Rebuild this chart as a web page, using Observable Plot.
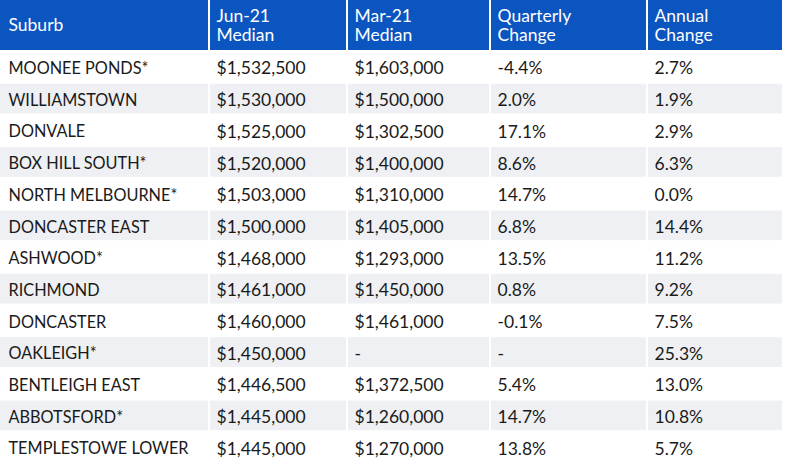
<!DOCTYPE html>
<html>
<head>
<meta charset="utf-8">
<script src="https://cdn.jsdelivr.net/npm/d3@7"></script>
<script src="https://cdn.jsdelivr.net/npm/@observablehq/plot@0.6"></script>
<style>
  html, body { margin: 0; padding: 0; background: #fff; }
  #chart svg { display: block; }
</style>
</head>
<body>
<div id="chart"></div>
<script>
const headers = ["Suburb", "Jun-21\nMedian", "Mar-21\nMedian", "Quarterly\nChange", "Annual\nChange"];
const suburbs = ["MOONEE PONDS*", "WILLIAMSTOWN", "DONVALE", "BOX HILL SOUTH*", "NORTH MELBOURNE*", "DONCASTER EAST", "ASHWOOD*", "RICHMOND", "DONCASTER", "OAKLEIGH*", "BENTLEIGH EAST", "ABBOTSFORD*", "TEMPLESTOWE LOWER"];
const jun21 = [1532500, 1530000, 1525000, 1520000, 1503000, 1500000, 1468000, 1461000, 1460000, 1450000, 1446500, 1445000, 1445000];
const mar21 = [1603000, 1500000, 1302500, 1400000, 1310000, 1405000, 1293000, 1450000, 1461000, null, 1372500, 1260000, 1270000];
const quarterly = [-4.4, 2.0, 17.1, 8.6, 14.7, 6.8, 13.5, 0.8, -0.1, null, 5.4, 14.7, 13.8];
const annual = [2.7, 1.9, 2.9, 6.3, 0.0, 14.4, 11.2, 9.2, 7.5, 25.3, 13.0, 10.8, 5.7];

const W = 785, H = 463;
const colEdges = [0, 209, 347, 490, 647, 783];
const headerH = 51;
const rowH = (H - headerH) / suburbs.length;
const gap = 1;

const loc = d3.formatLocale({decimal: ".", thousands: ",", grouping: [3], currency: ["$", ""], minus: "-"});
const money = v => v == null ? "-" : loc.format("$,")(v);
const pct = v => v == null ? "-" : loc.format(".1f")(v) + "%";

const cells = [];
const texts = [];
suburbs.forEach((s, r) => {
  const vals = [s, money(jun21[r]), money(mar21[r]), pct(quarterly[r]), pct(annual[r])];
  vals.forEach((t, c) => {
    cells.push({
      x1: colEdges[c] + (c > 0 ? gap : 0), x2: colEdges[c + 1] - gap,
      y1: headerH + r * rowH + gap, y2: headerH + (r + 1) * rowH - gap,
      fill: r % 2 === 1 ? "#eef0f3" : "#ffffff"
    });
    texts.push({x: colEdges[c] + (c === 0 ? 8 : 7), y: headerH + (r + 0.5) * rowH + 1.5, text: t, size: c === 0 ? 16.3 : 17.5});
  });
});
const heads = headers.map((h, c) => ({
  x1: colEdges[c] + (c > 0 ? gap : 0), x2: colEdges[c + 1] - gap, y1: 0, y2: headerH - gap,
  tx: colEdges[c] + (c === 0 ? 8 : 7), ty: headerH / 2 - 1, text: h
}));

const chart = Plot.plot({
  width: W, height: H,
  margin: 0,
  x: {domain: [0, W], range: [0, W], axis: null},
  y: {domain: [0, H], range: [0, H], axis: null},
  style: {fontFamily: "Lato, 'Open Sans', sans-serif", background: "#fff"},
  marks: [
    Plot.rect(cells, {x1: "x1", x2: "x2", y1: "y1", y2: "y2", fill: d => d.fill}),
    Plot.rect(heads, {x1: "x1", x2: "x2", y1: "y1", y2: "y2", fill: "#0b55c0"}),
    Plot.text(heads, {x: "tx", y: "ty", text: "text", textAnchor: "start", lineAnchor: "middle", fill: "#fff", fontSize: 17.5, lineHeight: 1.1}),
    Plot.text(texts.filter(d => d.size < 17), {x: "x", y: "y", text: "text", textAnchor: "start", lineAnchor: "middle", fill: "#1a1a1a", fontSize: 16.3}),
    Plot.text(texts.filter(d => d.size >= 17), {x: "x", y: "y", text: "text", textAnchor: "start", lineAnchor: "middle", fill: "#1a1a1a", fontSize: 17.5})
  ]
});
document.getElementById("chart").append(chart);
</script>
</body>
</html>
